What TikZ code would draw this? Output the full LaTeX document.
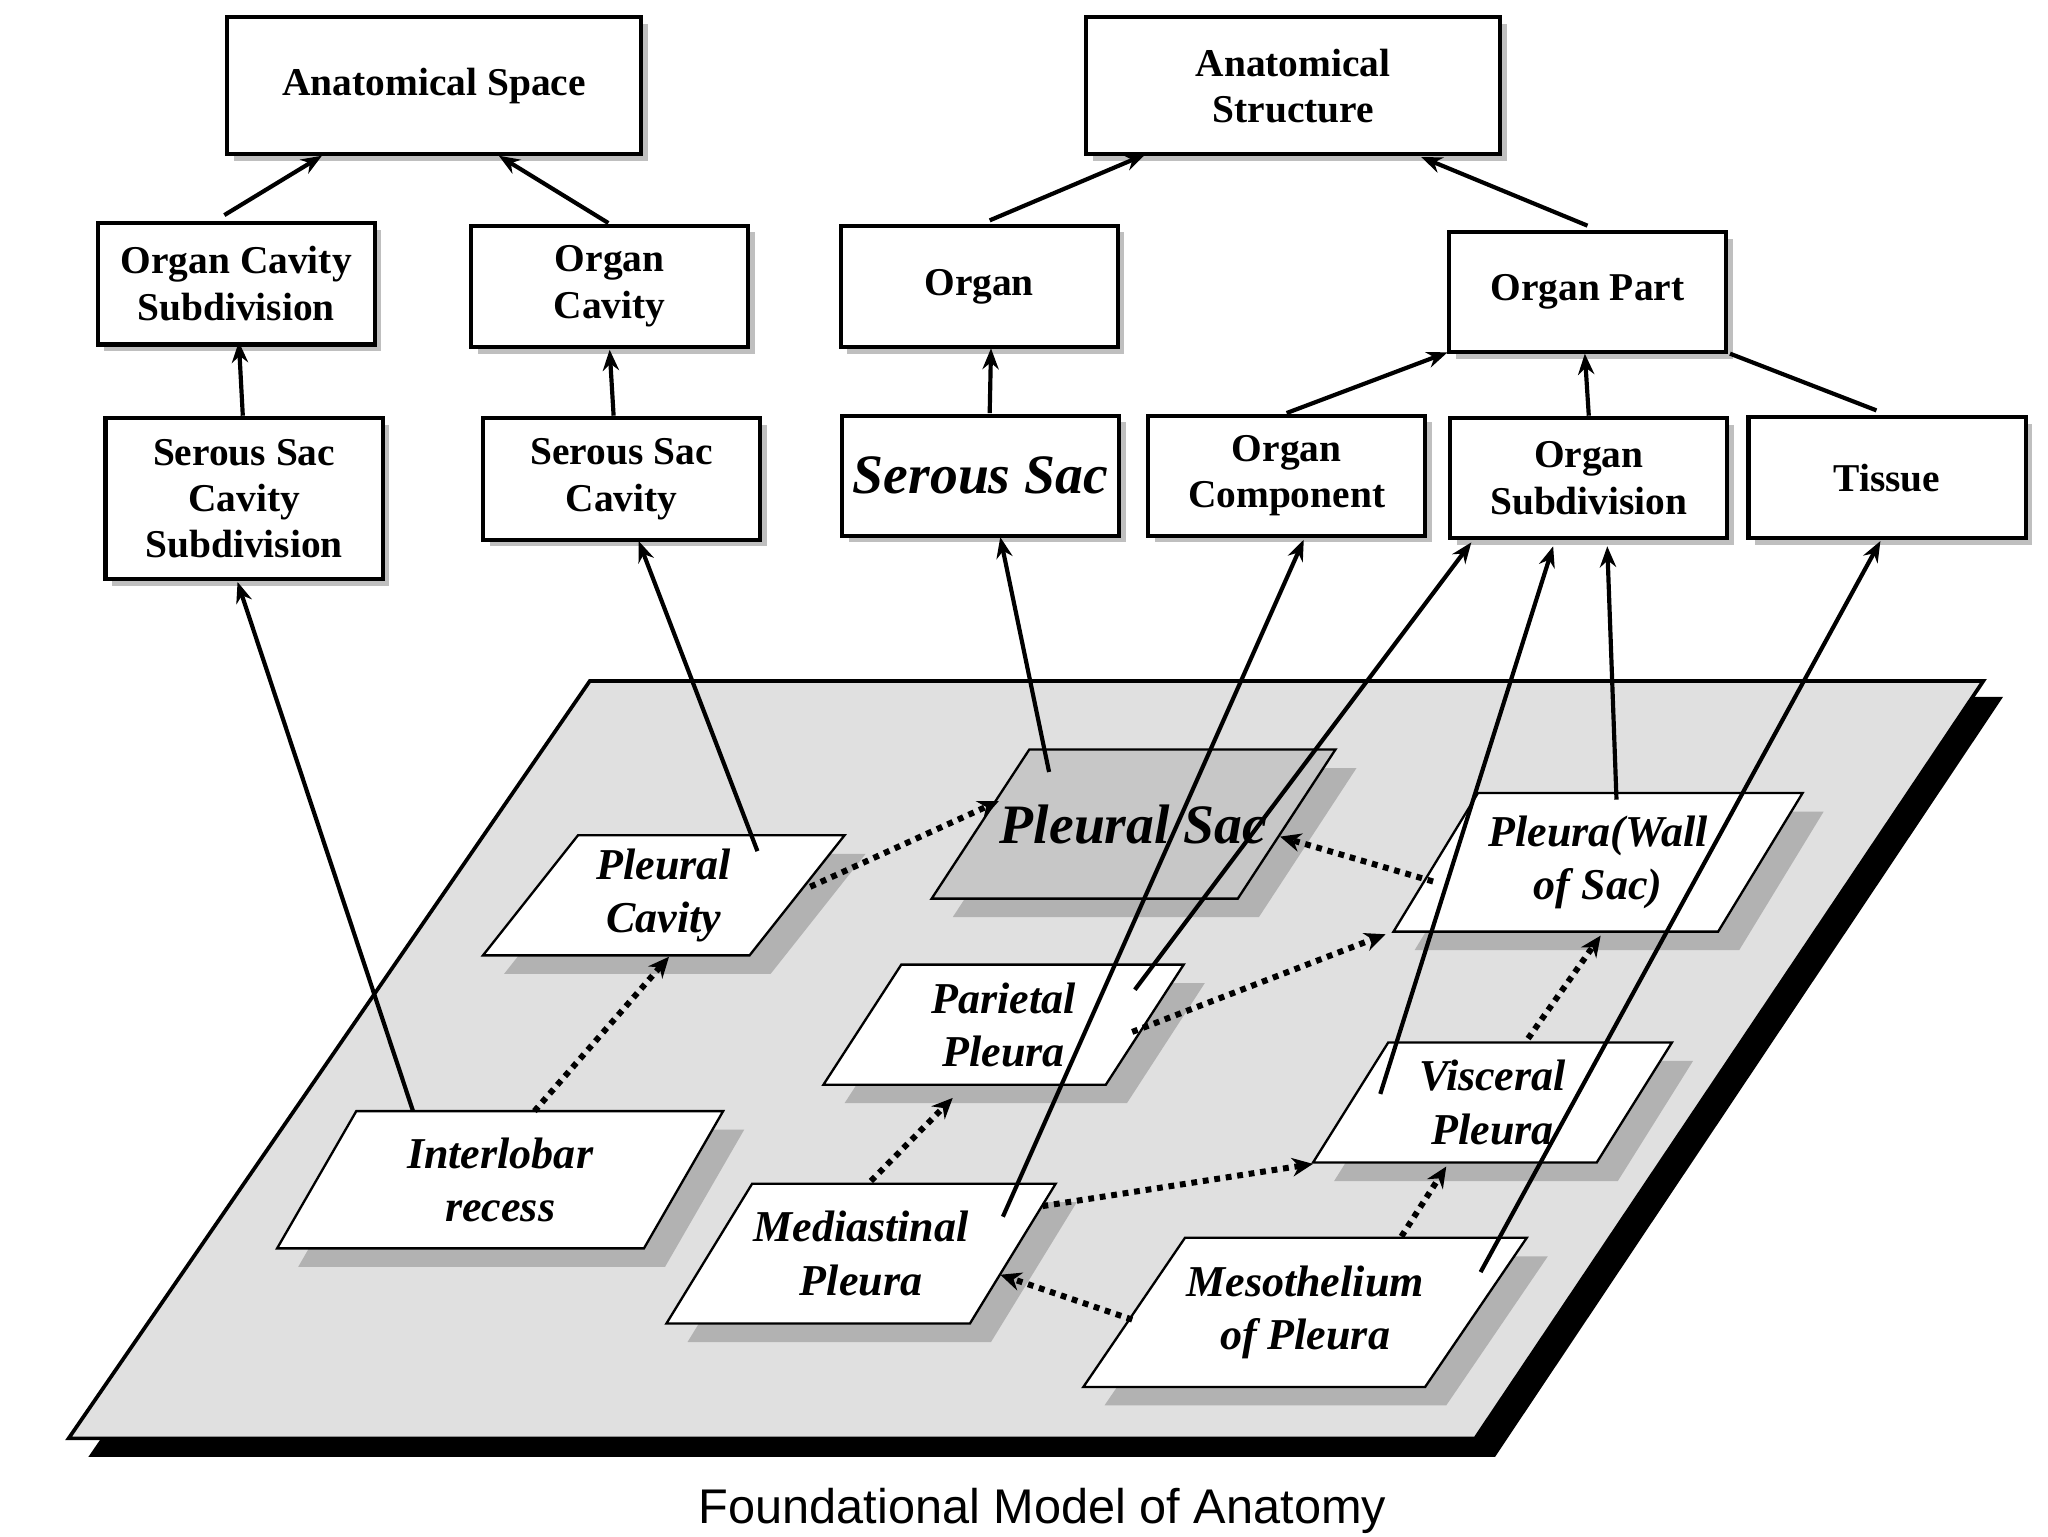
\documentclass[tikz,border=0pt]{standalone}
\usepackage{fontspec}
\setmainfont{Liberation Serif}
\newfontfamily\capfont{Liberation Sans}
\usetikzlibrary{arrows.meta}
\begin{document}
\begin{tikzpicture}[x=0.02cm,y=-0.02cm,
 box/.style={draw,line width=1.8pt,fill=white,font=\fontsize{17}{20}\selectfont\bfseries,align=center,inner sep=2pt},
 sh/.style={fill=black!25},
 par/.style={draw,line width=1pt,fill=white},
 ptxt/.style={font=\fontsize{19}{23}\selectfont\bfseries\itshape,align=center},
 arr/.style={line width=1.8pt,-{Stealth[length=9pt,width=7pt]}},
 dot/.style={line width=2.6pt,dash pattern=on 2.5pt off 2.5pt,-{Stealth[length=9pt,width=8pt]}}]
\useasboundingbox (0,0) rectangle (1552,1164);
% plane
\fill[black] (462,528) -- (1518,528) -- (1133,1104) -- (67,1104) -- cycle;
\draw[line width=1.6pt,fill=black!12] (447,516) -- (1503,516) -- (1118,1090) -- (52,1090) -- cycle;
% boxes
\newcommand\bx[6]{% name, x1,y1,x2,y2, text
 \fill[sh] (#2+5,#3+5) rectangle (#4+5,#5+5);
 \node[box,minimum width={(#4-#2)*0.02cm},minimum height={(#5-#3)*0.02cm}] (#1) at ({(#2+#4)/2},{(#3+#5)/2}) {#6};}
\bx{as}{172}{13}{486}{117}{Anatomical Space}
\bx{ast}{823}{13}{1137}{117}{Anatomical\\Structure}
\bx{ocs}{74}{169}{284}{261}{Organ Cavity\\Subdivision}
\bx{oc}{357}{171}{567}{263}{Organ\\Cavity}
\bx{org}{637}{171}{847}{263}{Organ}
\bx{op}{1098}{176}{1308}{267}{Organ Part}
\bx{sscs}{80}{317}{290}{439}{Serous Sac\\Cavity\\Subdivision}
\bx{ssc}{366}{317}{576}{409}{Serous Sac\\Cavity}
\bx{ss}{638}{315}{848}{406}{\fontsize{24}{28}\selectfont\itshape Serous Sac}
\bx{oco}{870}{315}{1080}{406}{Organ\\Component}
\bx{osub}{1099}{317}{1309}{408}{Organ\\Subdivision}
\bx{tis}{1325}{316}{1535}{408}{Tissue}
% parallelograms: name, topleftx, toprightx, topy, bottomleftx, bottomy, text, fill
\newcommand\pg[8]{%
 \fill[black!30] (#2+16,#4+14) -- (#3+16,#4+14) -- (#3-#2+#5+16,#6+14) -- (#5+16,#6+14) -- cycle;
 \draw[par,fill=#8] (#2,#4) -- (#3,#4) -- (#3-#2+#5,#6) -- (#5,#6) -- cycle;
 \node[ptxt] (#1) at ({(#2+#3)/4+(#5+#3-#2+#5)/4},{(#4+#6)/2}) {#7};}
\pg{pc}{438}{640}{633}{366}{724}{Pleural\\Cavity}{white}
\pg{psac}{780}{1012}{568}{706}{681}{\fontsize{24}{28}\selectfont Pleural Sac}{black!22}
\pg{pw}{1120}{1366}{601}{1056}{706}{Pleura(Wall\\of Sac)}{white}
\pg{pp}{683}{897}{731}{624}{822}{Parietal\\Pleura}{white}
\pg{ir}{270}{548}{842}{210}{946}{Interlobar\\recess}{white}
\pg{vp}{1052}{1267}{790}{995}{881}{Visceral\\Pleura}{white}
\pg{mp}{570}{800}{897}{505}{1003}{Mediastinal\\Pleura}{white}
\pg{mes}{898}{1157}{938}{821}{1051}{Mesothelium\\of Pleura}{white}
% solid arrows
\draw[arr] (170,163) -- (244,118);
\draw[arr] (461,169) -- (378,118);
\draw[arr] (750,167) -- (868,117);
\draw[arr] (1203,171) -- (1077,119);
\draw[arr] (184,315) -- (181,259);
\draw[arr] (465,315) -- (462,265);
\draw[arr] (750,313) -- (751,264);
\draw[arr] (975,313) -- (1097,267);
\draw[arr] (1204,315) -- (1201,268);
\draw[line width=1.8pt] (1422,311) -- (1311,268);
\draw[arr] (313,842) -- (180,441);
\draw[arr] (574,645) -- (484,410);
\draw[arr] (795,585) -- (758,407);
\draw[arr] (760,922) -- (988,409);
\draw[arr] (860,750) -- (1115,411);
\draw[arr] (1046,829) -- (1177,414);
\draw[arr] (1225,606) -- (1218,414);
\draw[arr] (1122,964) -- (1425,410);
% dotted arrows
\draw[dot] (614,672) -- (757,607);
\draw[dot] (405,842) -- (507,725);
\draw[dot] (1086,668) -- (970,634);
\draw[dot] (858,782) -- (1050,708);
\draw[dot] (1158,787) -- (1213,709);
\draw[dot] (660,895) -- (722,832);
\draw[dot] (790,914) -- (995,882);
\draw[dot] (858,1000) -- (758,966);
\draw[dot] (1062,937) -- (1096,884);
\node[font=\capfont\fontsize{21}{25}\selectfont] (cap) at (790,1145) {Foundational Model of Anatomy};
\end{tikzpicture}
\end{document}
